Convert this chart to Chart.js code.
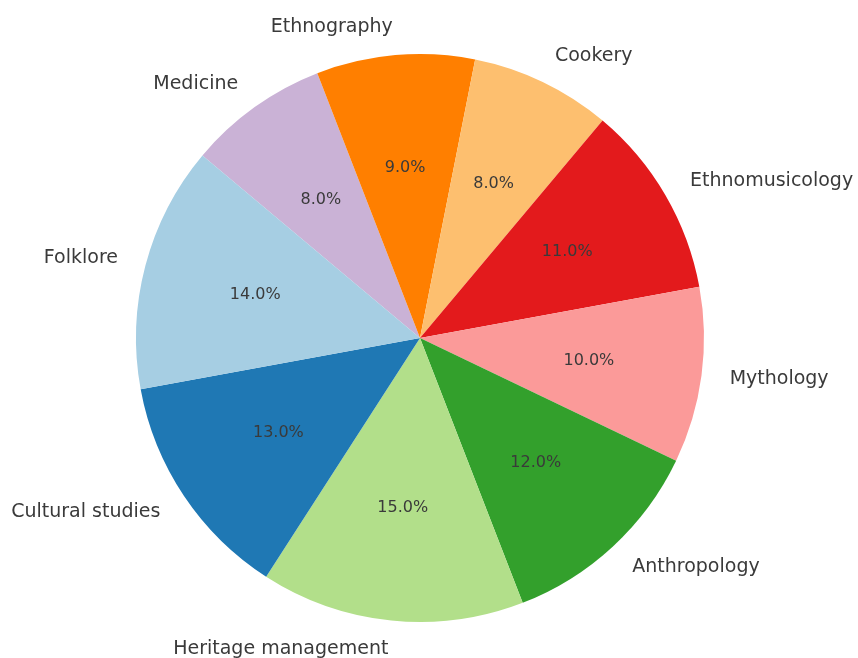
<!DOCTYPE html>
<html>
<head>
<meta charset="utf-8">
<script src="https://cdn.jsdelivr.net/npm/chart.js@4/dist/chart.umd.min.js"></script>
<style>
  html, body { margin: 0; padding: 0; background: #fff; }
  #wrap { width: 858px; height: 658px; position: relative; }
</style>
</head>
<body>
<div id="wrap"><canvas id="pieChart"></canvas></div>
<script>
// slices listed clockwise from the Folklore/Medicine boundary
const categories = ['Medicine', 'Ethnography', 'Cookery', 'Ethnomusicology', 'Mythology',
  'Anthropology', 'Heritage management', 'Cultural studies', 'Folklore'];
const shares = [8, 9, 8, 11, 10, 12, 15, 13, 14];
const sliceColors = ['#cab2d6', '#ff7f00', '#fdbf6f', '#e31a1c', '#fb9a99',
  '#33a02c', '#b2df8a', '#1f78b4', '#a6cee3'];

const textColor = '#3a3a3a';
const fontFamily = '"DejaVu Sans", sans-serif';

// names outside the pie, percentages inside
const sliceLabels = {
  id: 'sliceLabels',
  afterDatasetsDraw(chart) {
    const ctx = chart.ctx;
    const total = shares.reduce((a, b) => a + b, 0);
    chart.getDatasetMeta(0).data.forEach((arc, i) => {
      const mid = (arc.startAngle + arc.endAngle) / 2;
      const r = arc.outerRadius;
      const cx = Math.cos(mid), cy = Math.sin(mid);
      ctx.save();
      ctx.fillStyle = textColor;
      ctx.textBaseline = 'middle';

      ctx.font = '19px ' + fontFamily;
      ctx.textAlign = cx >= 0 ? 'left' : 'right';
      ctx.fillText(categories[i], arc.x + cx * r * 1.1, arc.y + cy * r * 1.1);

      ctx.font = '16px ' + fontFamily;
      ctx.textAlign = 'center';
      const pct = (shares[i] / total * 100).toFixed(1) + '%';
      ctx.fillText(pct, arc.x + cx * r * 0.6, arc.y + cy * r * 0.6);
      ctx.restore();
    });
  }
};

new Chart(document.getElementById('pieChart'), {
  type: 'pie',
  data: {
    labels: categories,
    datasets: [{
      data: shares,
      backgroundColor: sliceColors,
      borderWidth: 0
    }]
  },
  options: {
    responsive: true,
    maintainAspectRatio: false,
    animation: false,
    rotation: -50,
    layout: { padding: { top: 54, bottom: 36, left: 0, right: 18 } },
    plugins: {
      legend: { display: false },
      tooltip: { enabled: false }
    }
  },
  plugins: [sliceLabels]
});
</script>
</body>
</html>
